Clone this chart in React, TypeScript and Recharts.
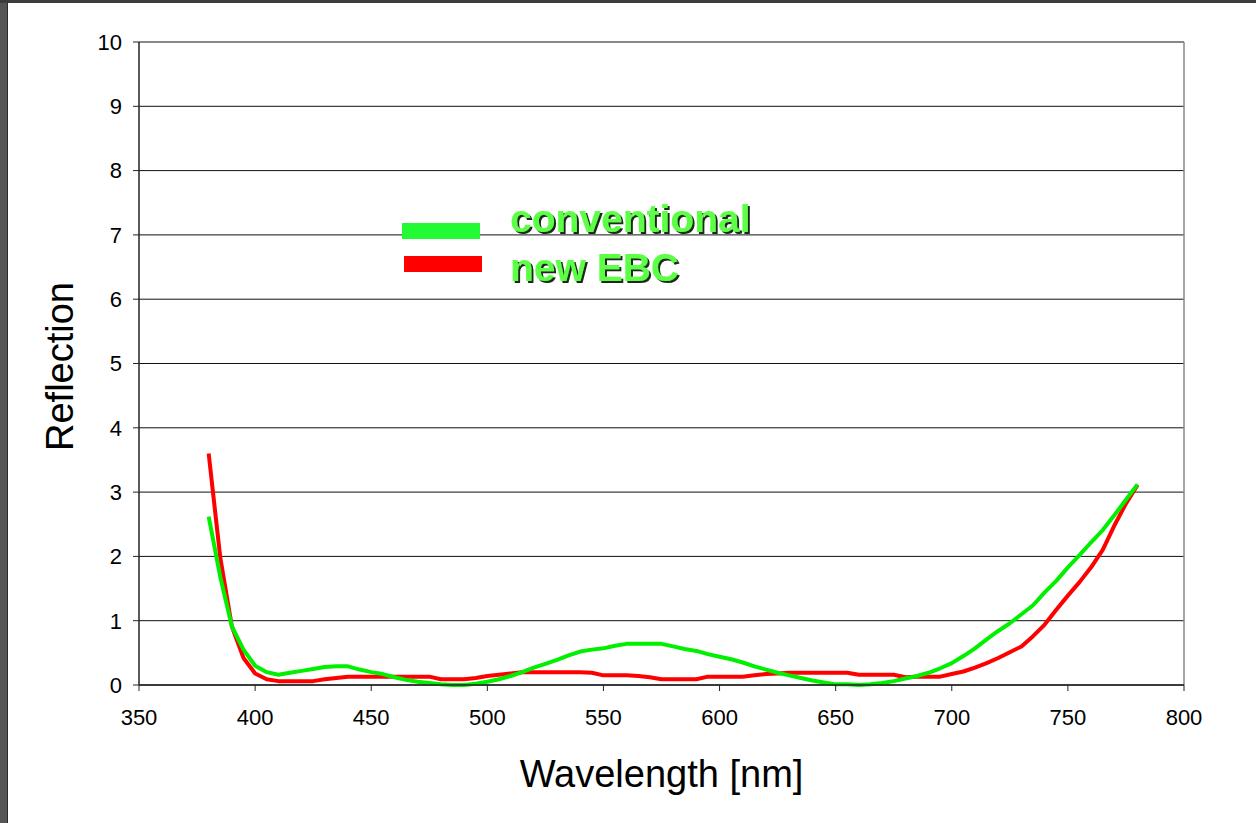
import React from 'react';
import {
  LineChart,
  Line,
  XAxis,
  YAxis,
  CartesianGrid,
  ReferenceLine,
  Legend,
} from 'recharts';

// ─── Data ─────────────────────────────────────────────────────────────────────

const wavelengths = [
  380, 385, 390, 395, 400, 405, 410, 415, 420, 425, 430, 435, 440, 445, 450, 455,
  460, 465, 470, 475, 480, 485, 490, 495, 500, 505, 510, 515, 520, 525, 530, 535,
  540, 545, 550, 555, 560, 565, 570, 575, 580, 585, 590, 595, 600, 605, 610, 615,
  620, 625, 630, 635, 640, 645, 650, 655, 660, 665, 670, 675, 680, 685, 690, 695,
  700, 705, 710, 715, 720, 725, 730, 735, 740, 745, 750, 755, 760, 765, 770, 775,
  780,
];

const conventional = [
  2.62, 1.68, 0.91, 0.55, 0.3, 0.2, 0.16, 0.19, 0.22, 0.25, 0.28, 0.29, 0.29, 0.24, 0.2, 0.17,
  0.12, 0.08, 0.05, 0.03, 0.01, 0.0, 0.0, 0.02, 0.05, 0.09, 0.14, 0.2, 0.27, 0.33, 0.39, 0.46,
  0.52, 0.55, 0.57, 0.61, 0.64, 0.64, 0.64, 0.64, 0.6, 0.56, 0.53, 0.48, 0.44, 0.4, 0.35, 0.29,
  0.24, 0.19, 0.15, 0.11, 0.07, 0.04, 0.01, 0.01, 0.0, 0.01, 0.03, 0.06, 0.1, 0.14, 0.19, 0.26,
  0.34, 0.45, 0.57, 0.71, 0.84, 0.96, 1.1, 1.24, 1.44, 1.62, 1.83, 2.02, 2.22, 2.41, 2.64, 2.88,
  3.12,
];

const newEBC = [
  3.6, 1.98, 0.91, 0.42, 0.18, 0.09, 0.06, 0.06, 0.06, 0.06, 0.09, 0.11, 0.13, 0.13, 0.13, 0.13,
  0.13, 0.13, 0.13, 0.13, 0.09, 0.09, 0.09, 0.11, 0.14, 0.16, 0.18, 0.2, 0.2, 0.2, 0.2, 0.2,
  0.2, 0.19, 0.15, 0.15, 0.15, 0.14, 0.12, 0.09, 0.09, 0.09, 0.09, 0.13, 0.13, 0.13, 0.13, 0.15,
  0.17, 0.18, 0.19, 0.19, 0.19, 0.19, 0.19, 0.19, 0.16, 0.16, 0.16, 0.16, 0.12, 0.13, 0.13, 0.13,
  0.17, 0.21, 0.27, 0.34, 0.42, 0.51, 0.6, 0.76, 0.94, 1.17, 1.39, 1.6, 1.83, 2.1, 2.48, 2.82,
  3.11,
];

const xTicks = [350, 400, 450, 500, 550, 600, 650, 700, 750, 800];
const yTicks = [0, 1, 2, 3, 4, 5, 6, 7, 8, 9, 10];

const GREEN = '#00f000';
const RED = '#ff0000';
const LEGEND_GREEN = '#22fa33';
const LABEL_GREEN = '#5cff44';
const FONT = "Arial, 'Liberation Sans', Helvetica, sans-serif";

const data = wavelengths.map((nm, i) => ({
  nm,
  conventional: conventional[i],
  newEBC: newEBC[i],
}));

// ─── Legend ───────────────────────────────────────────────────────────────────

function BoxLegend() {
  const rows = [
    { name: 'conventional', swatch: LEGEND_GREEN, x: 2, y: 23, base: 32 },
    { name: 'new EBC', swatch: RED, x: 4, y: 56, base: 81 },
  ];
  return (
    <svg width={360} height={95} style={{ display: 'block', overflow: 'visible' }}>
      <defs>
        <filter id="legendShadow" x="-5%" y="-20%" width="115%" height="150%">
          <feOffset in="SourceAlpha" dx={2} dy={2} result="off" />
          <feFlood floodColor="#1e2a1e" result="col" />
          <feComposite in="col" in2="off" operator="in" result="shadow" />
          <feMerge>
            <feMergeNode in="shadow" />
            <feMergeNode in="SourceGraphic" />
          </feMerge>
        </filter>
      </defs>
      {rows.map((r) => (
        <g key={r.name}>
          <rect x={r.x} y={r.y} width={78} height={16} fill={r.swatch} />
          <text
            x={110}
            y={r.base}
            fontFamily={FONT}
            fontWeight="bold"
            fontSize={39}
            fill={LABEL_GREEN}
            filter="url(#legendShadow)"
          >
            {r.name}
          </text>
        </g>
      ))}
    </svg>
  );
}

// ─── Component ────────────────────────────────────────────────────────────────

export default function App() {
  return (
    <div style={{ position: 'absolute', left: 0, top: 0, width: 1256, height: 823, background: '#fff', overflow: 'hidden' }}>
      <LineChart
        width={1256}
        height={823}
        data={data}
        margin={{ top: 42, right: 72, left: 39, bottom: 28 }}
        style={{ fontFamily: FONT }}
      >
        <CartesianGrid horizontal vertical={false} stroke="#111" strokeWidth={1} />
        <XAxis
          dataKey="nm"
          type="number"
          domain={[350, 800]}
          ticks={xTicks}
          interval={0}
          height={110}
          tick={{ fill: '#000', fontSize: 22 }}
          tickSize={6}
          tickMargin={18}
          axisLine={{ stroke: '#222', strokeWidth: 1.5 }}
          tickLine={{ stroke: '#222' }}
          label={{ value: 'Wavelength [nm]', position: 'insideBottom', offset: 8, fill: '#000', fontSize: 38 }}
        />
        <YAxis
          type="number"
          domain={[0, 10]}
          ticks={yTicks}
          interval={0}
          width={100}
          tick={{ fill: '#000', fontSize: 22 }}
          tickSize={6}
          tickMargin={11}
          axisLine={{ stroke: '#222', strokeWidth: 1.5 }}
          tickLine={{ stroke: '#222' }}
          label={{
            value: 'Reflection',
            angle: -90,
            position: 'insideLeft',
            offset: 21,
            dy: 3,
            fill: '#000',
            fontSize: 38,
            style: { textAnchor: 'middle' },
          }}
        />
        <ReferenceLine y={10} stroke="#888" strokeWidth={1.5} />
        <ReferenceLine x={800} stroke="#888" strokeWidth={1.5} />
        <Legend
          layout="horizontal"
          verticalAlign="middle"
          align="center"
          content={<BoxLegend />}
          wrapperStyle={{ left: 400, top: 200, width: 360, height: 95 }}
        />
        <Line
          dataKey="newEBC"
          name="new EBC"
          type="linear"
          stroke={RED}
          strokeWidth={4}
          strokeLinejoin="round"
          dot={false}
          activeDot={false}
          isAnimationActive={false}
        />
        <Line
          dataKey="conventional"
          name="conventional"
          type="linear"
          stroke={GREEN}
          strokeWidth={4}
          strokeLinejoin="round"
          dot={false}
          activeDot={false}
          isAnimationActive={false}
        />
      </LineChart>
      {/* window frame edges */}
      <div style={{ position: 'absolute', left: 0, top: 0, width: 7, height: 823, background: '#555' }} />
      <div style={{ position: 'absolute', left: 7, top: 0, width: 1, height: 823, background: '#2a2a2a' }} />
      <div style={{ position: 'absolute', left: 0, top: 0, width: 1256, height: 3, background: '#3c3c3c' }} />
    </div>
  );
}
